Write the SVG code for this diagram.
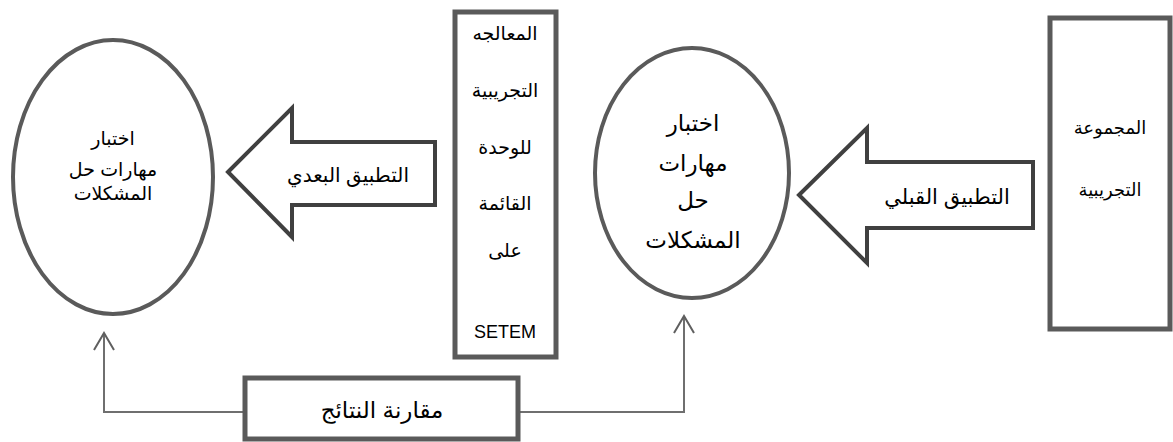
<svg xmlns="http://www.w3.org/2000/svg" width="1173" height="442" viewBox="0 0 1173 442">
<defs>
<style>
.ell{fill:#fff;stroke:#5a5a5a;stroke-width:4}
.box{fill:#fff;stroke:#5a5a5a;stroke-width:5}
.arr{fill:#fff;stroke:#404040;stroke-width:4;stroke-linejoin:miter}
.con{fill:none;stroke:#6f6f6f;stroke-width:2}
.head{fill:none;stroke:#5f5f5f;stroke-width:2}
.t{font-family:"Liberation Sans","DejaVu Sans",sans-serif;fill:#000;text-anchor:middle}
</style>
</defs>
<rect width="1173" height="442" fill="#fff"/>
<g id="connectors">
<polyline class="con" points="245,412 104,412 104,333"/>
<path class="head" d="M94 350 L104 333 L114 350"/>
<polyline class="con" points="518,412 684,412 684,316"/>
<path class="head" d="M674 333 L684 316 L694 333"/>
</g>
<g id="node-left-ellipse">
<ellipse class="ell" cx="113" cy="177" rx="100" ry="137"/>
<text class="t" font-size="19" x="113" y="145">اختبار</text>
<text class="t" font-size="19" x="113" y="176">مهارات حل</text>
<text class="t" font-size="19" x="113" y="200">المشكلات</text>
</g>
<g id="node-post-arrow">
<polygon class="arr" points="228,172 292,108 292,142 435,142 435,205 292,205 292,237"/>
<text class="t" font-size="20" x="348" y="182">التطبيق البعدي</text>
</g>
<g id="node-treatment">
<rect class="box" x="455" y="12" width="101" height="345"/>
<text class="t" font-size="19" x="505" y="40">المعالجه</text>
<text class="t" font-size="19" x="505" y="97">التجريبية</text>
<text class="t" font-size="19" x="505" y="154">للوحدة</text>
<text class="t" font-size="19" x="505" y="210">القائمة</text>
<text class="t" font-size="19" x="505" y="257">على</text>
<text class="t" font-size="18" x="505" y="338">SETEM</text>
</g>
<g id="node-right-ellipse">
<ellipse class="ell" cx="692" cy="173" rx="97" ry="125"/>
<text class="t" font-size="23" x="693" y="131">اختبار</text>
<text class="t" font-size="23" x="693" y="171">مهارات</text>
<text class="t" font-size="23" x="693" y="208">حل</text>
<text class="t" font-size="23" x="693" y="248">المشكلات</text>
</g>
<g id="node-pre-arrow">
<polygon class="arr" points="799,195 867,128 867,162 1033,162 1033,228 867,228 867,263"/>
<text class="t" font-size="21" x="947" y="204">التطبيق القبلي</text>
</g>
<g id="node-group">
<rect class="box" x="1050" y="18" width="120" height="311"/>
<text class="t" font-size="18" x="1110" y="134">المجموعة</text>
<text class="t" font-size="18" x="1110" y="196">التجريبية</text>
</g>
<g id="node-compare">
<rect class="box" x="245" y="378" width="273" height="61"/>
<text class="t" font-size="23" x="382" y="418">مقارنة النتائج</text>
</g>
</svg>
